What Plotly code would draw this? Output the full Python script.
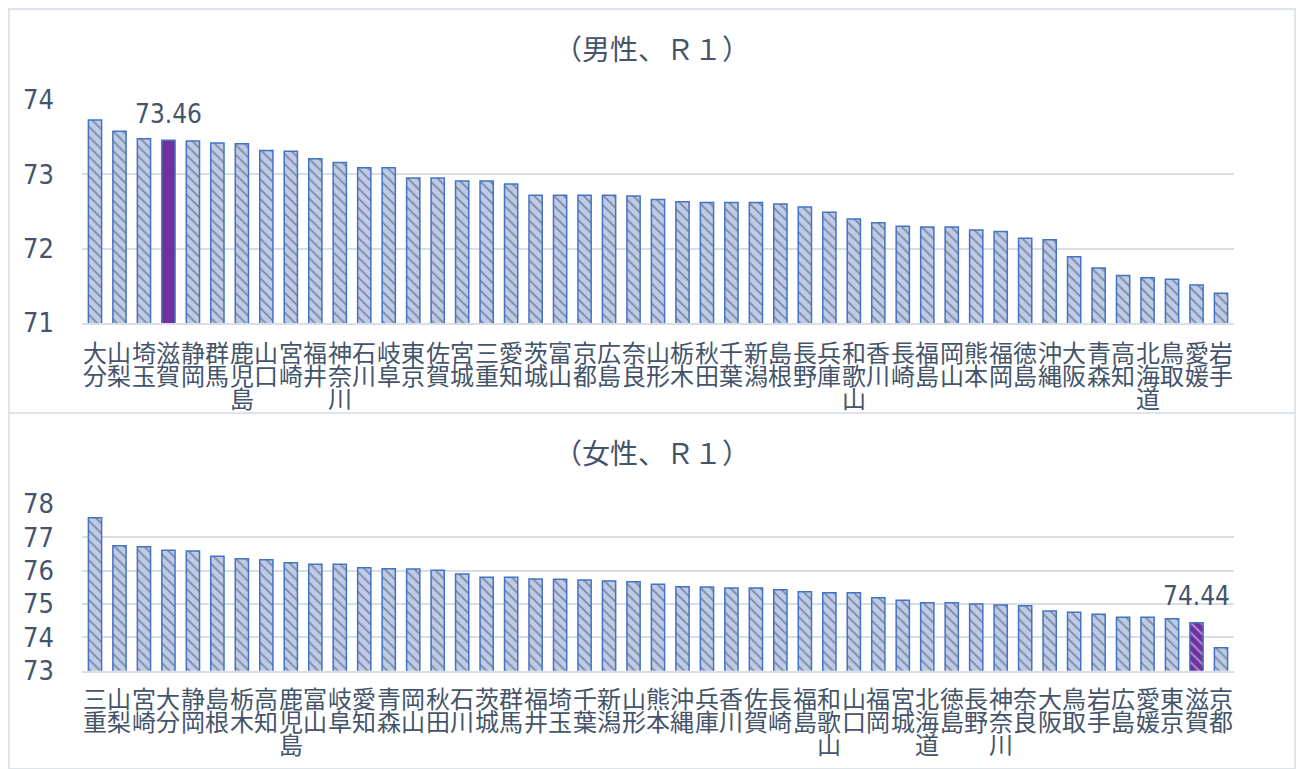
import plotly.graph_objects as go

# ---- data ----
male_pref = ["大分","山梨","埼玉","滋賀","静岡","群馬","鹿児島","山口","宮崎","福井","神奈川","石川","岐阜","東京","佐賀","宮城","三重","愛知","茨城","富山","京都","広島","奈良","山形","栃木","秋田","千葉","新潟","島根","長野","兵庫","和歌山","香川","長崎","福島","岡山","熊本","福岡","徳島","沖縄","大阪","青森","高知","北海道","鳥取","愛媛","岩手"]
male_vals = [73.73,73.58,73.48,73.46,73.45,73.42,73.41,73.32,73.31,73.21,73.16,73.09,73.09,72.95,72.95,72.91,72.91,72.87,72.72,72.72,72.72,72.72,72.71,72.66,72.63,72.62,72.62,72.62,72.60,72.56,72.49,72.40,72.35,72.30,72.29,72.29,72.25,72.23,72.14,72.12,71.89,71.74,71.64,71.61,71.59,71.51,71.40]

female_pref = ["三重","山梨","宮崎","大分","静岡","島根","栃木","高知","鹿児島","富山","岐阜","愛知","青森","岡山","秋田","石川","茨城","群馬","福井","埼玉","千葉","新潟","山形","熊本","沖縄","兵庫","香川","佐賀","長崎","福島","和歌山","山口","福岡","宮城","北海道","徳島","長野","神奈川","奈良","大阪","鳥取","岩手","広島","愛媛","東京","滋賀","京都"]
female_vals = [77.59,76.75,76.72,76.61,76.59,76.43,76.36,76.33,76.24,76.19,76.19,76.09,76.06,76.05,76.01,75.90,75.80,75.80,75.75,75.74,75.72,75.69,75.67,75.59,75.52,75.51,75.48,75.48,75.43,75.37,75.34,75.34,75.19,75.11,75.04,75.04,75.00,74.97,74.95,74.79,74.75,74.69,74.60,74.60,74.56,74.44,73.69]

highlight = "滋賀"
male_title = "（男性、Ｒ１）"
female_title = "（女性、Ｒ１）"
male_ticks = [71, 72, 73, 74]
female_ticks = [73, 74, 75, 76, 77, 78]

# ---- style ----
OFF = 8                      # page body margin
W, H = 1308 - OFF, 769 - OFF
TEXT = "#44546A"
GRID = "#d9dde4"
BLUE = "#4472C4"
LIGHT = "#bccbea"
PURPLE = "#7030A0"
CJK = "Noto Sans CJK JP"
NUM = "Liberation Sans Narrow, DejaVu Sans Condensed, Noto Sans CJK JP"


def px_x(x):
    return (x - OFF) / W


def px_y(y):
    return 1 - (y - OFF) / H


X0, X1 = px_x(82), px_x(1234)

fig = go.Figure()


def add_bars(cats, vals, xa, ya, solid_highlight):
    bg, fg, shp = [], [], []
    for c in cats:
        if c == highlight:
            if solid_highlight:
                bg.append(PURPLE); fg.append(PURPLE); shp.append("")
            else:
                bg.append(PURPLE); fg.append("#dcd0ee"); shp.append("\\")
        else:
            bg.append(LIGHT); fg.append(BLUE); shp.append("\\")
    fig.add_trace(go.Bar(
        x=cats, y=vals, xaxis=xa, yaxis=ya,
        marker=dict(color=bg, line=dict(color=BLUE, width=1.5),
                    pattern=dict(shape=shp, bgcolor=bg, fgcolor=fg, size=7, solidity=0.25)),
        showlegend=False, hoverinfo="x+y",
    ))


add_bars(male_pref, male_vals, "x", "y", True)
add_bars(female_pref, female_vals, "x2", "y2", False)

axis_common = dict(showgrid=False, showline=True, linecolor=GRID, linewidth=1.5,
                   showticklabels=False, ticks="", fixedrange=True, automargin=False)
yaxis_common = dict(showgrid=True, gridcolor=GRID, gridwidth=1.5, zeroline=False,
                    ticks="", ticklabelstandoff=27, automargin=False,
                    tickfont=dict(family=NUM, size=27, color=TEXT), fixedrange=True)

fig.update_layout(
    width=W, height=H, autosize=False,
    margin=dict(l=0, r=0, t=0, b=0, pad=0, autoexpand=False),
    showlegend=False,
    paper_bgcolor="white", plot_bgcolor="white",
    bargap=0.46,
    xaxis=dict(domain=[X0, X1], anchor="y", type="category", **axis_common),
    yaxis=dict(domain=[px_y(323), px_y(100)], anchor="x", range=[71, 74], tickvals=male_ticks, **yaxis_common),
    xaxis2=dict(domain=[X0, X1], anchor="y2", type="category", **axis_common),
    yaxis2=dict(domain=[px_y(670.7), px_y(504)], anchor="x2", range=[73, 78], tickvals=female_ticks, **yaxis_common),
)

ann = []
# titles
ann.append(dict(text=male_title, x=px_x(652), y=px_y(48), xref="paper", yref="paper",
                xanchor="center", yanchor="middle",
                showarrow=False, font=dict(family=CJK, size=28, color=TEXT)))
ann.append(dict(text=female_title, x=px_x(652), y=px_y(452), xref="paper", yref="paper",
                xanchor="center", yanchor="middle",
                showarrow=False, font=dict(family=CJK, size=28, color=TEXT)))


def cat_labels(cats, xa, ya, first_off):
    for c in cats:
        for k, ch in enumerate(c):
            ann.append(dict(text=ch, x=c, xref=xa, y=0, yref=ya + " domain",
                            xanchor="center", yanchor="middle", yshift=-(first_off + 23 * k),
                            borderpad=0, showarrow=False,
                            font=dict(family=CJK, size=24, color=TEXT)))


cat_labels(male_pref, "x", "y", 29)
cat_labels(female_pref, "x2", "y2", 27)

# value labels for highlighted prefecture
mi = male_pref.index(highlight)
fi = female_pref.index(highlight)
ann.append(dict(text=f"{male_vals[mi]:.2f}", x=highlight, xref="x", y=male_vals[mi], yref="y",
                xanchor="center", yanchor="middle", yshift=26, showarrow=False,
                font=dict(family=NUM, size=26, color=TEXT)))
ann.append(dict(text=f"{female_vals[fi]:.2f}", x=highlight, xref="x2", y=female_vals[fi], yref="y2",
                xanchor="center", yanchor="middle", yshift=27, showarrow=False,
                font=dict(family=NUM, size=26, color=TEXT)))

fig.update_layout(annotations=ann)

# panel borders
BORDER = "#dfe3ea"
fig.add_shape(type="rect", xref="paper", yref="paper", x0=px_x(9), x1=px_x(1295),
              y0=px_y(413), y1=px_y(9), line=dict(color=BORDER, width=2))
fig.add_shape(type="rect", xref="paper", yref="paper", x0=px_x(9), x1=px_x(1295),
              y0=0, y1=px_y(413), line=dict(color=BORDER, width=2))

fig.write_html("out.html", config={"displayModeBar": False})
